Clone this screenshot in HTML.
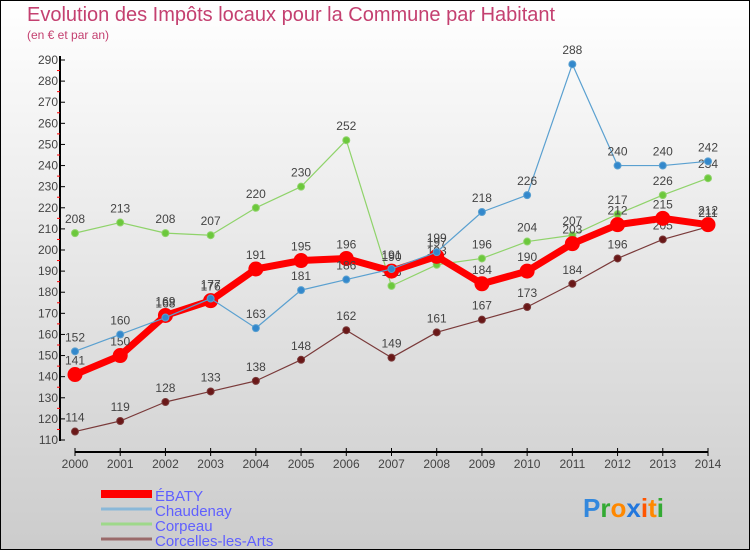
<!DOCTYPE html>
<html><head><meta charset="utf-8"><style>
body{margin:0;}
#wrap{position:relative;width:748px;height:548px;border:1px solid #000;background:linear-gradient(#fff,#ccc);font-family:"Liberation Sans",sans-serif;overflow:hidden}
.t{position:absolute;left:26px;top:3px;font-size:20px;color:#c44070}
.s{position:absolute;left:26px;top:27px;font-size:12px;color:#c44070}
</style></head><body>
<div id="wrap">
<div class="t">Evolution des Impôts locaux pour la Commune par Habitant</div>
<div class="s">(en € et par an)</div>
<svg id="svg" width="748" height="548" style="position:absolute;left:0;top:0"></svg>
</div>
<script>
const years=[2000,2001,2002,2003,2004,2005,2006,2007,2008,2009,2010,2011,2012,2013,2014];
const ebaty=[141,150,169,176,191,195,196,190,197,184,190,203,212,215,212];
const chaudenay=[152,160,168,177,163,181,186,191,199,218,226,288,240,240,242];
const corpeau=[208,213,208,207,220,230,252,183,193,196,204,207,217,226,234];
const corcelles=[114,119,128,133,138,148,162,149,161,167,173,184,196,205,211];
const yTicks=[110,120,130,140,150,160,170,180,190,200,210,220,230,240,250,260,270,280,290];
const seriesNames=["ÉBATY","Chaudenay","Corpeau","Corcelles-les-Arts"];
const NS="http://www.w3.org/2000/svg";
const svg=document.getElementById('svg');
const X=i=>74+i*(707-74)/(years.length-1);
const Y=v=>439-(v-110)*(439-59)/180;
function el(t,a,p){const e=document.createElementNS(NS,t);for(const k in a)e.setAttribute(k,a[k]);(p||svg).appendChild(e);return e;}
// axes
let ax=el('line',{x1:59,y1:55,x2:59,y2:440,stroke:'#000','stroke-width':2});


let ax2=el('line',{x1:74,y1:451,x2:707,y2:451,stroke:'#000','stroke-width':2});


yTicks.forEach(v=>{
 el('line',{x1:59,y1:Y(v),x2:64,y2:Y(v),stroke:'#000'});
 if(v<290) el('line',{x1:56,y1:Y(v+5),x2:59,y2:Y(v+5),stroke:'#f00'});
 const t=el('text',{x:57,y:Y(v)+4,'text-anchor':'end','font-size':12,fill:'#444'});
 t.textContent=v;
 
 
});
years.forEach((y,i)=>{
 el('line',{x1:X(i),y1:447,x2:X(i),y2:455,stroke:'#000'});
 const t=el('text',{x:X(i),y:467,'text-anchor':'middle','font-size':12,fill:'#444'});
 t.textContent=y;
 
 
});
function series(data,color,lw,r,name,dot){
 const g=el('g',{});
 
 
 el('polyline',{points:data.map((v,i)=>X(i)+','+Y(v)).join(' '),fill:'none',stroke:color,'stroke-width':lw,'stroke-linejoin':'round'},g);
 data.forEach((v,i)=>{
  const c=el('circle',{cx:X(i),cy:Y(v),r:r,fill:dot,stroke:color,'stroke-width':1},g);
  
  
  const t=el('text',{x:X(i),y:Y(v)-10,'text-anchor':'middle','font-size':12,fill:'#444'},g);
  t.textContent=v;
  
  
 });
}
series(corcelles,'#7a3a3a',1.2,3.5,'series-corcelles','#6a1818');
series(corpeau,'#8fd36a',1.2,3.5,'series-corpeau','#6cc83c');
series(ebaty,'#f00',7,7,'series-ebaty','#f00');
series(chaudenay,'#5aa0d0',1.2,3.5,'series-chaudenay','#3388cc');
const lc=['#f00','#8ab8d8','#9ed88a','#9a6a6a'];const lw=[8,3,3,3];
seriesNames.forEach((n,i)=>{
 const y=493+i*15;
 const l=el('line',{x1:100,y1:y,x2:151,y2:y,stroke:lc[i],'stroke-width':lw[i]});
 
 
 const t=el('text',{x:154,y:y+7,'font-size':15,fill:'#6060ff'});
 t.textContent=n;
 
 
});
const lg=el('text',{x:582,y:516,'font-size':26,'font-weight':'bold'});


[['P','#3388dd'],['r','#33aa33'],['o','#ff8800'],['x','#2277dd'],['i','#ff5500'],['t','#ff8800'],['i','#33aa33']].forEach(([c,f])=>{const s=el('tspan',{fill:f},lg);s.textContent=c;});
</script>
</body></html>
